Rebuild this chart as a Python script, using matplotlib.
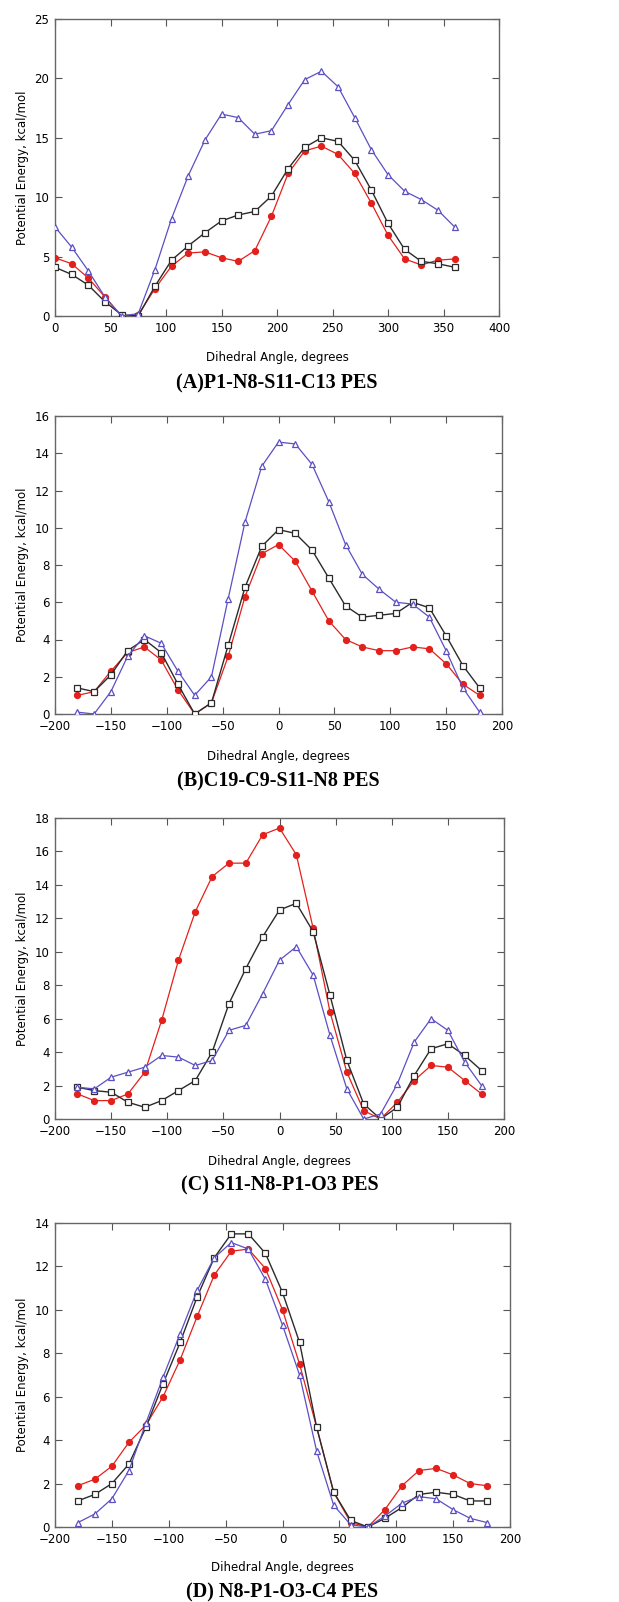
import numpy as np
import matplotlib
matplotlib.use("Agg")
import matplotlib.pyplot as plt

# dihedral angles (degrees)
ang_a = list(range(0, 361, 15))
ang_bcd = list(range(-180, 181, 15))

# (A) P1-N8-S11-C13
a_blue = [7.5, 5.8, 3.8, 1.6, 0.0, 0.2, 3.9, 8.2, 11.8, 14.8, 17.0, 16.7, 15.3,
          15.6, 17.8, 19.9, 20.6, 19.3, 16.7, 14.0, 11.9, 10.5, 9.8, 8.9, 7.5]
a_black = [4.1, 3.5, 2.6, 1.2, 0.1, 0.0, 2.5, 4.7, 5.9, 7.0, 8.0, 8.5, 8.8,
           10.1, 12.4, 14.2, 15.0, 14.7, 13.1, 10.6, 7.8, 5.6, 4.6, 4.4, 4.1]
a_red = [4.9, 4.4, 3.2, 1.6, 0.0, 0.1, 2.3, 4.2, 5.3, 5.4, 4.9, 4.6, 5.5,
         8.4, 12.0, 13.9, 14.3, 13.6, 12.0, 9.5, 6.8, 4.8, 4.3, 4.7, 4.8]

# (B) C19-C9-S11-N8
b_blue = [0.1, 0.0, 1.2, 3.1, 4.2, 3.8, 2.3, 1.0, 2.0, 6.2, 10.3, 13.3, 14.6,
          14.5, 13.4, 11.4, 9.1, 7.5, 6.7, 6.0, 5.9, 5.2, 3.4, 1.4, 0.1]
b_black = [1.4, 1.2, 2.1, 3.4, 4.0, 3.3, 1.6, 0.0, 0.6, 3.7, 6.8, 9.0, 9.9,
           9.7, 8.8, 7.3, 5.8, 5.2, 5.3, 5.4, 6.0, 5.7, 4.2, 2.6, 1.4]
b_red = [1.0, 1.2, 2.3, 3.3, 3.6, 2.9, 1.3, 0.0, 0.6, 3.1, 6.3, 8.6, 9.1,
         8.2, 6.6, 5.0, 4.0, 3.6, 3.4, 3.4, 3.6, 3.5, 2.7, 1.6, 1.0]

# (C) S11-N8-P1-O3
c_blue = [1.9, 1.8, 2.5, 2.8, 3.1, 3.8, 3.7, 3.2, 3.5, 5.3, 5.6, 7.5, 9.5,
          10.3, 8.6, 5.0, 1.8, 0.0, 0.3, 2.1, 4.6, 6.0, 5.3, 3.4, 2.0]
c_black = [1.9, 1.7, 1.6, 1.0, 0.7, 1.1, 1.7, 2.3, 4.0, 6.9, 9.0, 10.9, 12.5,
           12.9, 11.2, 7.4, 3.5, 0.9, 0.0, 0.7, 2.6, 4.2, 4.5, 3.8, 2.9]
c_red = [1.5, 1.1, 1.1, 1.5, 2.8, 5.9, 9.5, 12.4, 14.5, 15.3, 15.3, 17.0, 17.4,
         15.8, 11.4, 6.4, 2.8, 0.5, 0.0, 1.0, 2.3, 3.2, 3.1, 2.3, 1.5]

# (D) N8-P1-O3-C4
d_blue = [0.2, 0.6, 1.3, 2.6, 4.8, 6.9, 8.9, 10.9, 12.4, 13.1, 12.8, 11.4, 9.3,
          7.0, 3.5, 1.0, 0.1, 0.0, 0.5, 1.1, 1.4, 1.3, 0.8, 0.4, 0.2]
d_black = [1.2, 1.5, 2.0, 2.9, 4.6, 6.6, 8.5, 10.6, 12.4, 13.5, 13.5, 12.6, 10.8,
           8.5, 4.6, 1.6, 0.3, 0.0, 0.4, 0.9, 1.5, 1.6, 1.5, 1.2, 1.2]
d_red = [1.9, 2.2, 2.8, 3.9, 4.7, 6.0, 7.7, 9.7, 11.6, 12.7, 12.8, 11.9, 10.0,
         7.5, 4.6, 1.6, 0.2, 0.0, 0.8, 1.9, 2.6, 2.7, 2.4, 2.0, 1.9]

titles = ["(A)P1-N8-S11-C13 PES", "(B)C19-C9-S11-N8 PES",
          "(C) S11-N8-P1-O3 PES", "(D) N8-P1-O3-C4 PES"]

W, H = 619, 1602
# pixel boxes: left, right, top, bottom ; label y, title y
boxes = [(55, 499, 19, 316, 357, 383),
         (55, 502, 416, 714, 757, 781),
         (55, 504, 818, 1119, 1161, 1185),
         (55, 510, 1223, 1527, 1568, 1592)]
panels = [
    (ang_a, a_blue, a_black, a_red, (0, 400), np.arange(0, 401, 50), (0, 25), np.arange(0, 26, 5)),
    (ang_bcd, b_blue, b_black, b_red, (-200, 200), np.arange(-200, 201, 50), (0, 16), np.arange(0, 17, 2)),
    (ang_bcd, c_blue, c_black, c_red, (-200, 200), np.arange(-200, 201, 50), (0, 18), np.arange(0, 19, 2)),
    (ang_bcd, d_blue, d_black, d_red, (-200, 200), np.arange(-200, 201, 50), (0, 14), np.arange(0, 15, 2)),
]

BLUE, BLACK, RED = "#5b4fc4", "#2b2b2b", "#e3211c"
fig = plt.figure(figsize=(W / 100, H / 100), dpi=100)

for (l, r, t, b, ly, ty), (x, yb, yk, yr, xl, xt, yl, yt), title in zip(boxes, panels, titles):
    ax = fig.add_axes([l / W, 1 - b / H, (r - l) / W, (b - t) / H])
    ax.plot(x, yr, "-o", color=RED, lw=0.9, ms=4.2, mfc=RED, mec=RED, zorder=3)
    ax.plot(x, yk, "-s", color=BLACK, lw=1.0, ms=4.0, mfc="white", mec=BLACK, mew=0.9, zorder=4)
    ax.plot(x, yb, "-^", color=BLUE, lw=0.9, ms=4.0, mfc="white", mec=BLUE, mew=0.9, zorder=5)
    ax.set_xlim(*xl); ax.set_ylim(*yl)
    ax.set_xticks(xt); ax.set_yticks(yt)
    ax.tick_params(direction="in", top=True, right=True, length=5, width=0.8,
                   color="#555555", labelsize=8.5, pad=4)
    for s in ax.spines.values():
        s.set_color("#666666"); s.set_linewidth(1.0)
    ax.set_ylabel("Potential Energy, kcal/mol", fontsize=8.5, labelpad=4)
    fig.text(((l + r) / 2) / W, 1 - ly / H, "Dihedral Angle, degrees",
             ha="center", va="center", fontsize=8.5)
    fig.text(((l + r) / 2) / W, 1 - ty / H, title, ha="center", va="center",
             fontsize=14.5, fontweight="bold", family="Liberation Serif")

fig.savefig("out.png", dpi=100)
